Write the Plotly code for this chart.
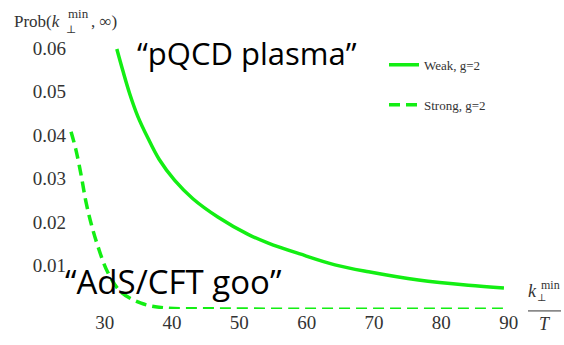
import plotly.graph_objects as go

# Weak coupling (pQCD) curve, g = 2
weak_k = [31.8, 32.7, 33.7, 34.9, 36.4, 38.1, 40.4, 43.1, 46.8, 51.3, 54.3, 59.0, 64.2, 69.2, 76.6, 84.0, 89.3]
weak_p = [0.0598, 0.0548, 0.0496, 0.0444, 0.0394, 0.0344, 0.0296, 0.0254, 0.0212, 0.0172, 0.0152,
          0.0127, 0.0102, 0.0086, 0.0067, 0.0055, 0.0049]

# Strong coupling (AdS/CFT) curve, g = 2
strong_k = [25.0, 25.7, 26.5, 27.2, 28.0, 29.0, 30.45, 32.4, 35.4, 38.9, 45.0, 60.0, 75.0, 90.0]
strong_p = [0.0408, 0.0368, 0.0308, 0.0248, 0.0196, 0.0144, 0.0085, 0.0040, 0.0014, 0.0003, 0.0001, 0.0, 0.0, 0.0]

X_RANGE = [24.4, 90.2]
Y_RANGE = [0.00005, 0.0605]  # starts a hair above zero so no "0.00" label is drawn

GREEN = "#13ee13"
SERIF = "Liberation Serif, DejaVu Serif, serif"
SANS = "Open Sans, Lato, sans-serif"
INK = "#333"

fig = go.Figure()
fig.add_trace(go.Scatter(
    x=weak_k, y=weak_p, mode="lines", name="Weak, g=2",
    line=dict(color=GREEN, width=3.5, shape="spline"),
    legendgroup="w",
))
fig.add_trace(go.Scatter(
    x=strong_k, y=strong_p, mode="lines", name="Strong, g=2",
    line=dict(color=GREEN, width=3.5, shape="spline", dash="11px,6px"),
    legendgroup="s",
))

# primary axes carry the tick labels
fig.update_layout(
    xaxis=dict(
        range=X_RANGE, dtick=10, showgrid=False, zeroline=False, showline=False, ticks="",
        tickfont=dict(family=SERIF, size=19, color=INK),
    ),
    yaxis=dict(
        range=Y_RANGE, dtick=0.01, tickformat=".2f", showgrid=False, zeroline=False,
        showline=False, ticks="",
        tickfont=dict(family=SERIF, size=19, color=INK),
    ),
    # overlaid axes draw the axis lines and the major/minor tick marks
    xaxis2=dict(
        overlaying="x", anchor="y", side="bottom", range=X_RANGE, dtick=10,
        showgrid=False, zeroline=False, showticklabels=False,
        showline=True, linecolor="black", linewidth=1,
        ticks="inside", ticklen=7, tickwidth=1, tickcolor="black",
        minor=dict(ticks="inside", ticklen=4, tickwidth=1, tickcolor="black", dtick=2),
    ),
    yaxis2=dict(
        overlaying="y", anchor="x", side="left", range=Y_RANGE, dtick=0.01,
        showgrid=False, zeroline=False, showticklabels=False,
        showline=True, linecolor="black", linewidth=1,
        ticks="inside", ticklen=7, tickwidth=1, tickcolor="black",
        minor=dict(ticks="inside", ticklen=4, tickwidth=1, tickcolor="black", dtick=0.002),
    ),
)

W, H = 564, 345
M = dict(l=67, r=54, t=46, b=27)
pw, ph = W - M["l"] - M["r"], H - M["t"] - M["b"]


def px_to_paper(x, y):
    return (x - M["l"]) / pw, 1 - (y - M["t"]) / ph


labels = [
    # y-axis title
    (12, 21, "Prob(<i>k</i>", SERIF, 17, INK, "left"),
    (66, 12, "min", SERIF, 13, INK, "left"),
    (64, 28, "⊥", SERIF, 11, INK, "left"),
    (89, 21, ", ∞)", SERIF, 17, INK, "left"),
    # x-axis fraction label
    (526, 299, "<i>k</i>", SERIF, 18, INK, "left"),
    (539, 293, "min", SERIF, 12, INK, "left"),
    (535, 306, "⊥", SERIF, 10, INK, "left"),
    (545, 334, "<i>T</i>", SERIF, 18, INK, "center"),
    # regime labels
    (135, 53, "“pQCD plasma”", SANS, 31, "black", "left"),
    (63, 290, "“AdS/CFT goo”", SANS, 33, "black", "left"),
]
annotations = []
for x, y, text, fam, size, col, xa in labels:
    ax, ay = px_to_paper(x, y)
    annotations.append(dict(
        x=ax, y=ay, xref="paper", yref="paper", text=text,
        font=dict(family=fam, size=size, color=col),
        xanchor=xa, yanchor="middle", showarrow=False,
    ))

fx0, fy = px_to_paper(528, 320)
fx1, _ = px_to_paper(561, 320)
shapes = [dict(
    type="line", xref="paper", yref="paper", x0=fx0, x1=fx1, y0=fy, y1=fy,
    line=dict(color=INK, width=1),
)]

lx, ly = px_to_paper(384, 50)
fig.update_layout(
    width=W, height=H, margin=M,
    paper_bgcolor="white", plot_bgcolor="white",
    annotations=annotations, shapes=shapes,
    showlegend=True,
    legend=dict(
        x=lx, y=ly, xanchor="left", yanchor="top",
        font=dict(family=SERIF, size=13, color=INK), bgcolor="rgba(0,0,0,0)",
        tracegroupgap=20, itemwidth=30,
    ),
)

fig.write_html("out.html")
